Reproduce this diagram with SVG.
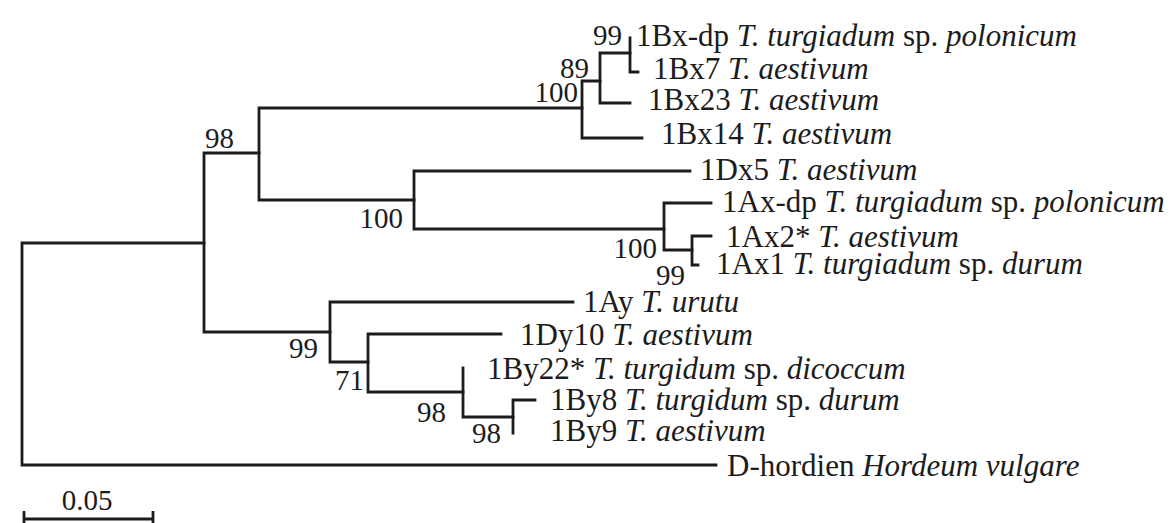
<svg xmlns="http://www.w3.org/2000/svg" width="1175" height="523" viewBox="0 0 1175 523">
<style>
.br{fill:none;stroke:#1c1c1c;stroke-width:2.8;stroke-linecap:square;stroke-linejoin:miter}
.lf{font-family:"Liberation Serif","Times New Roman",serif;font-size:31px;fill:#1c1c1c}
.bs{font-family:"Liberation Serif","Times New Roman",serif;font-size:29px;fill:#1c1c1c}
.i{font-style:italic}
</style>
<rect width="1175" height="523" fill="#ffffff"/>
<g id="connectors">
<path class="br" d="M22 243 V465 M22 243 H204 M22 465 H716"/>
<path class="br" d="M204 153 V332 M204 153 H259 M204 332 H330"/>
<path class="br" d="M259 108 V200 M259 108 H582 M259 200 H414"/>
<path class="br" d="M582 81 V138 M582 81 H600 M582 138 H642"/>
<path class="br" d="M600 53 V103 M600 53 H630 M600 103 H630"/>
<path class="br" d="M630 38 V72 M630 72 H638"/>
<path class="br" d="M414 171 V229 M414 171 H690 M414 229 H664"/>
<path class="br" d="M664 203 V250 M664 203 H711 M664 250 H692"/>
<path class="br" d="M692 236 V265 M692 236 H711 M692 265 H698"/>
<path class="br" d="M330 302 V362 M330 302 H573 M330 362 H368"/>
<path class="br" d="M368 334 V392 M368 334 H501 M368 392 H463"/>
<path class="br" d="M463 368 V417 M463 417 H513"/>
<path class="br" d="M513 400 V433 M513 400 H535"/>
</g>
<g id="internal-nodes">
<g id="n-98a"><text class="bs" x="205" y="148">98</text></g>
<g id="n-100a"><text class="bs" x="578" y="102" text-anchor="end">100</text></g>
<g id="n-89"><text class="bs" x="589" y="78" text-anchor="end">89</text></g>
<g id="n-99a"><text class="bs" x="593" y="45">99</text></g>
<g id="n-100b"><text class="bs" x="403" y="228" text-anchor="end">100</text></g>
<g id="n-100c"><text class="bs" x="657" y="258" text-anchor="end">100</text></g>
<g id="n-99b"><text class="bs" x="656" y="285">99</text></g>
<g id="n-99c"><text class="bs" x="289" y="358">99</text></g>
<g id="n-71"><text class="bs" x="335" y="390">71</text></g>
<g id="n-98b"><text class="bs" x="417" y="422">98</text></g>
<g id="n-98c"><text class="bs" x="472" y="443">98</text></g>
</g>
<g id="leaves">
<g id="leaf-1Bx-dp"><text class="lf" x="636" y="46">1Bx-dp <tspan class="i">T. turgiadum</tspan> sp. <tspan class="i">polonicum</tspan></text></g>
<g id="leaf-1Bx7"><text class="lf" x="653" y="79">1Bx7 <tspan class="i">T. aestivum</tspan></text></g>
<g id="leaf-1Bx23"><text class="lf" x="648" y="110">1Bx23 <tspan class="i">T. aestivum</tspan></text></g>
<g id="leaf-1Bx14"><text class="lf" x="661" y="144">1Bx14 <tspan class="i">T. aestivum</tspan></text></g>
<g id="leaf-1Dx5"><text class="lf" x="700" y="180">1Dx5 <tspan class="i">T. aestivum</tspan></text></g>
<g id="leaf-1Ax-dp"><text class="lf" x="722" y="212">1Ax-dp <tspan class="i">T. turgiadum</tspan> sp. <tspan class="i">polonicum</tspan></text></g>
<g id="leaf-1Ax2"><text class="lf" x="726" y="247">1Ax2* <tspan class="i">T. aestivum</tspan></text></g>
<g id="leaf-1Ax1"><text class="lf" x="716" y="274">1Ax1 <tspan class="i">T. turgiadum</tspan> sp. <tspan class="i">durum</tspan></text></g>
<g id="leaf-1Ay"><text class="lf" x="583" y="312">1Ay <tspan class="i">T. urutu</tspan></text></g>
<g id="leaf-1Dy10"><text class="lf" x="520" y="345">1Dy10 <tspan class="i">T. aestivum</tspan></text></g>
<g id="leaf-1By22"><text class="lf" x="487" y="379">1By22* <tspan class="i">T. turgidum</tspan> sp. <tspan class="i">dicoccum</tspan></text></g>
<g id="leaf-1By8"><text class="lf" x="550" y="410">1By8 <tspan class="i">T. turgidum</tspan> sp. <tspan class="i">durum</tspan></text></g>
<g id="leaf-1By9"><text class="lf" x="550" y="441">1By9 <tspan class="i">T. aestivum</tspan></text></g>
<g id="leaf-D-hordien"><text class="lf" x="727" y="476">D-hordien <tspan class="i">Hordeum vulgare</tspan></text></g>
</g>
<g id="scale-bar">
<path class="br" d="M24 511 V523 M24 519 H153 M153 511 V523" style="stroke-linecap:butt"/>
<text class="bs" x="87" y="510" text-anchor="middle">0.05</text>
</g>
</svg>
